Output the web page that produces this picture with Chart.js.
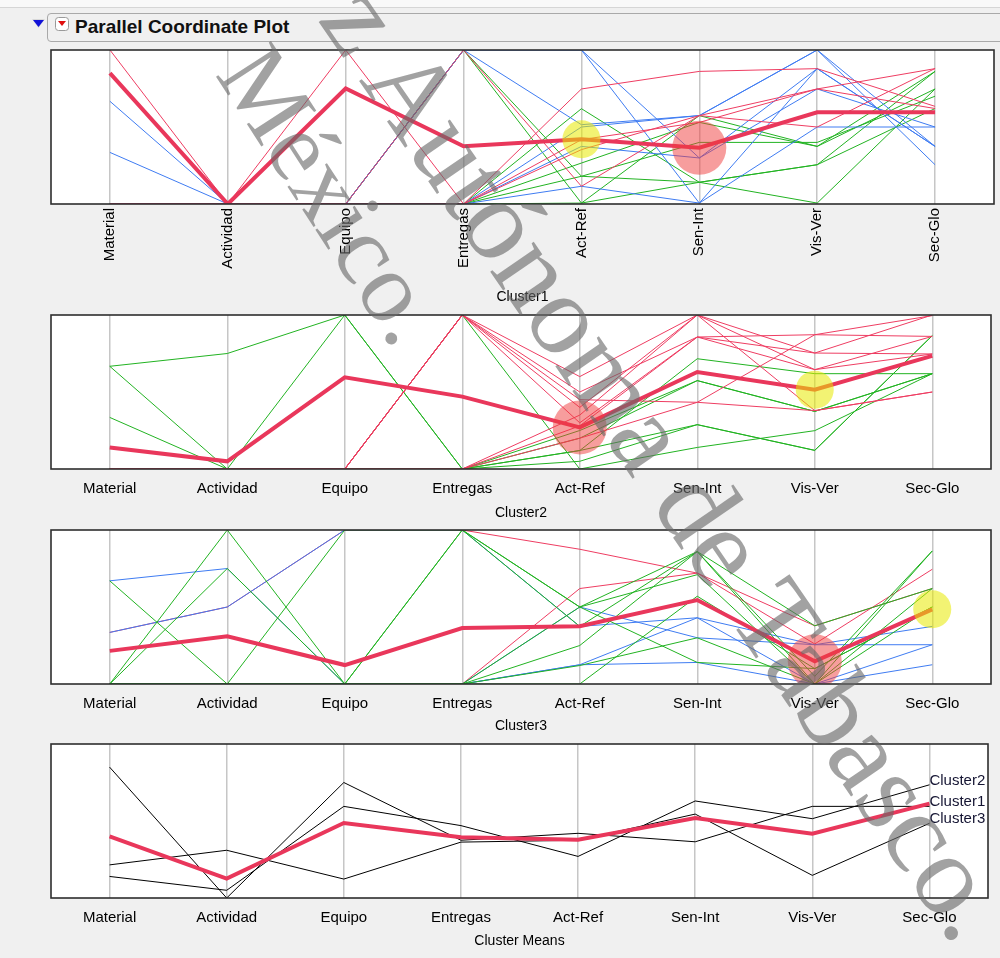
<!DOCTYPE html>
<html>
<head>
<meta charset="utf-8">
<script src="https://cdn.jsdelivr.net/npm/chart.js@4.4.1/dist/chart.umd.min.js"></script>
<style>
  body { margin: 0; background: #f0f0f0; width: 1000px; height: 958px; overflow: hidden; position: relative; font-family: "Liberation Sans", Arial, sans-serif; }
  #strip { position: absolute; left: 0; top: 0; width: 1000px; height: 7px; background: #f9f9f9; border-bottom: 1px solid #d6d6d6; }
  .hdr { position: absolute; left: 47px; top: 13px; width: 960px; height: 27px; border: 1px solid #a9a9a9; border-radius: 4px; background: #f0f0f0; }
  .ttl { position: absolute; left: 27px; top: 2px; font: bold 19px/22px "Liberation Sans", Arial, sans-serif; color: #111; white-space: nowrap; }
  .icons { position: absolute; left: 0; top: 0; }
  canvas { position: absolute; left: 0; }
  .wm { position: absolute; font-family: "Liberation Serif", "DejaVu Serif", serif; color: rgba(105,105,105,0.62); white-space: nowrap; transform-origin: 0 0; pointer-events: none; z-index: 5; }
  .wm1 { left: 396px; top: -35px; font-size: 115px; line-height: 115px; transform: rotate(55.5deg); }
  .wm2 { left: 284px; top: 29px; font-size: 100px; line-height: 100px; transform: rotate(57deg); }
</style>
</head>
<body>
<div id="strip"></div>
<div class="hdr"><span class="ttl">Parallel Coordinate Plot</span></div>
<svg class="icons" width="80" height="40">
  <polygon points="32,19 45,19 38.5,28" fill="#d8d8d8"/>
  <polygon points="33,20 44,20 38.5,27" fill="#1212d8"/>
  <rect x="55.5" y="17.5" width="13" height="13" rx="3" fill="#fff" stroke="#9a9a9a"/>
  <polygon points="58,21 66,21 62,26" fill="#e01010"/>
</svg>
<canvas id="c1"></canvas>
<canvas id="c2"></canvas>
<canvas id="c3"></canvas>
<canvas id="c4"></canvas>
<div class="wm wm1">z Autónoma de Tabasco.</div>
<div class="wm wm2">México.</div>
<script>
const axisNames = ['Material', 'Actividad', 'Equipo', 'Entregas', 'Act-Ref', 'Sen-Int', 'Vis-Ver', 'Sec-Glo'];

// cluster means (scaled 0..1 per axis)
const cluster1Mean = [0.85, 0.00, 0.75, 0.375, 0.42, 0.365, 0.595, 0.595];
const cluster2Mean = [0.14, 0.05, 0.595, 0.47, 0.27, 0.63, 0.515, 0.735];
const cluster3Mean = [0.215, 0.31, 0.123, 0.363, 0.375, 0.545, 0.147, 0.485];
const overallMean  = [0.40, 0.126, 0.487, 0.394, 0.379, 0.52, 0.418, 0.613];

// individual rows, cluster 1
const c1Red = [
  [1, 0, 1, 0, 0.747, 0.861, 0.879, 0.634],
  [0, 0, 0, 1, 0.115, 0.574, 0.747, 0.879],
  [0, 0, 0, 0, 0.353, 0.574, 0.5, 0.88],
  [0, 0, 0, 0, 0.418, 0.53, 0.747, 0.62]
];
const c1Blue = [
  [0.667, 0, 0, 1, 0.515, 0.574, 1.0, 0.255],
  [0.335, 0, 0, 0, 0.374, 0.299, 0.879, 0.374],
  [0, 0, 0, 1, 1.0, 0.299, 0.747, 0.5],
  [0, 0, 0, 1, 1.0, 0.006, 0.879, 0.374],
  [0, 0, 0, 0, 0.115, 0.006, 0.5, 0.5],
  [0, 0, 0, 0, 0.5, 0.574, 1.0, 0.374]
];
const c1Green = [
  [0, 0, 0, 0, 0.619, 0.141, 0.006, 0.747],
  [0, 0, 0, 1, 0.006, 0.574, 0.374, 0.747],
  [0, 0, 0, 1, 0.18, 0.141, 0.255, 0.861],
  [0, 0, 0, 0, 0.266, 0.53, 0.374, 0.861],
  [0, 0, 0, 0, 0.18, 0.4, 0.4, 0.7],
  [0, 0, 0, 0, 0.006, 0.141, 0.255, 0.62]
];

// cluster 2
const c2Red = [
  [0, 0, 0, 1, 0.6, 1.0, 0.753, 1.0],
  [0, 0, 0, 1, 0.5, 0.857, 0.645, 0.861],
  [0, 0, 0, 1, 0.4, 1.0, 0.645, 0.747],
  [0, 0, 0, 1, 0.3, 0.857, 0.872, 0.996],
  [0, 0, 0, 1, 0.45, 0.433, 0.379, 0.5],
  [0, 0, 0, 0, 0.28, 0.857, 0.753, 0.747],
  [0, 0, 0, 0, 0.2, 0.433, 0.872, 0.861],
  [0, 0, 0, 0, 0.35, 1.0, 0.379, 0.5]
];
const c2Green = [
  [0.667, 0.75, 1, 0, 0.12, 0.288, 0.121, 0.866],
  [0.667, 0, 1, 0, 0.2, 0.574, 0.374, 0.619],
  [0.335, 0, 0, 1, 0.0, 0.14, 0.249, 0.619],
  [0, 0, 0, 0, 0.12, 0.716, 0.619, 0.619],
  [0, 0, 0, 0, 0.05, 0.288, 0.121, 0.866],
  [0, 0, 0, 0, 0.25, 0.574, 0.374, 0.619]
];

// cluster 3
const c3Red = [
  [0.335, 0.5, 1, 1, 0.875, 0.72, 0.378, 0.62],
  [0, 0, 0, 0, 0.62, 0.72, 0.26, 0.745]
];
const c3Blue = [
  [0.67, 0.75, 0, 0, 0.125, 0.43, 0.255, 0.374],
  [0.335, 0.5, 1, 1, 0.374, 0.43, 0.0, 0.255],
  [0, 0, 0, 0, 0.125, 0.14, 0.0, 0.125],
  [0, 0, 0, 0, 0.5, 0.3, 0.255, 0.255]
];
const c3Green = [
  [0.67, 0, 1, 1, 0.5, 0.86, 0.0, 0.864],
  [0, 1, 0, 1, 0.374, 0.86, 0.378, 0.62],
  [0, 0.75, 0, 0, 0.5, 0.71, 0.0, 0.5],
  [0, 0, 0, 0, 0.25, 0.86, 0.05, 0.864],
  [0, 0, 0, 0, 0.0, 0.57, 0.1, 0.5],
  [0, 0, 0, 0, 0.12, 0.3, 0.0, 0.62],
  [0, 0, 0, 1, 0.5, 0.14, 0.1, 0.5]
];

// axis index of the yellow / pink marker on each cluster mean
const yellowAxis = [4, 6, 7];
const pinkAxis = [5, 4, 6];

const RED = '#ee3d62', BLUE = '#3f7cf2', GREEN = '#22b322', MEAN = '#e9375b';
Chart.defaults.font.family = '"Liberation Sans", Arial, sans-serif';

function thin(rows, color) {
  return rows.map(r => ({ data: r, borderColor: color, borderWidth: 1, pointRadius: 0 }));
}
function meanLine(m) {
  return { data: m, borderColor: MEAN, borderWidth: 4, pointRadius: 0 };
}
function markers(m, yi, pi) {
  return {
    data: m, showLine: false, pointBorderWidth: 0, pointBorderColor: 'rgba(0,0,0,0)',
    pointRadius: c => c.dataIndex === yi ? 19 : (c.dataIndex === pi ? 27 : 0),
    pointBackgroundColor: c => c.dataIndex === yi ? 'rgba(232,234,0,0.55)' : 'rgba(240,60,60,0.5)'
  };
}

const framePlugin = {
  id: 'frame',
  beforeDraw(chart) {
    const a = chart.chartArea, ctx = chart.ctx;
    ctx.save(); ctx.fillStyle = '#fff'; ctx.fillRect(a.left, a.top, a.right - a.left, a.bottom - a.top); ctx.restore();
  },
  afterDraw(chart) {
    const a = chart.chartArea, ctx = chart.ctx;
    ctx.save(); ctx.strokeStyle = '#2e2e2e'; ctx.lineWidth = 1.6;
    ctx.strokeRect(a.left, a.top, a.right - a.left, a.bottom - a.top); ctx.restore();
  }
};

const clusterLabels = {
  id: 'clusterLabels',
  afterDatasetsDraw(chart) {
    const ctx = chart.ctx;
    ctx.save(); ctx.font = '15px "Liberation Sans", Arial'; ctx.fillStyle = '#141432'; ctx.textBaseline = 'alphabetic';
    chart.data.datasets.forEach((ds, i) => {
      if (!ds.clusterName) return;
      const pt = chart.getDatasetMeta(i).data[axisNames.length - 1];
      ctx.fillText(ds.clusterName, pt.x, pt.y);
    });
    ctx.restore();
  }
};

const panels = [
  { id: 'c1', top: 50, bottom: 204, right: 994, title: 'Cluster1', titleY: 298, rotated: true,
    datasets: [markers(cluster1Mean, yellowAxis[0], pinkAxis[0]), meanLine(cluster1Mean), ...thin(c1Red, RED), ...thin(c1Blue, BLUE), ...thin(c1Green, GREEN)] },
  { id: 'c2', top: 315, bottom: 469, right: 991, title: 'Cluster2', titleY: 514,
    datasets: [markers(cluster2Mean, yellowAxis[1], pinkAxis[1]), meanLine(cluster2Mean), ...thin(c2Red, RED), ...thin(c2Green, GREEN)] },
  { id: 'c3', top: 530, bottom: 684, right: 991, title: 'Cluster3', titleY: 727,
    datasets: [markers(cluster3Mean, yellowAxis[2], pinkAxis[2]), meanLine(cluster3Mean), ...thin(c3Green, GREEN), ...thin(c3Blue, BLUE), ...thin(c3Red, RED)] },
  { id: 'c4', top: 744, bottom: 898, right: 988, title: 'Cluster Means', titleY: 942,
    datasets: [meanLine(overallMean),
      { data: cluster2Mean, borderColor: '#000', borderWidth: 1, pointRadius: 0, clusterName: 'Cluster2' },
      { data: cluster1Mean, borderColor: '#000', borderWidth: 1, pointRadius: 0, clusterName: 'Cluster1' },
      { data: cluster3Mean, borderColor: '#000', borderWidth: 1, pointRadius: 0, clusterName: 'Cluster3' }] }
];

panels.forEach(p => {
  const canvas = document.getElementById(p.id);
  const cTop = p.top - 10;
  const cBottom = Math.round(p.titleY + 8.4);
  canvas.width = 1000; canvas.height = cBottom - cTop;
  canvas.style.top = cTop + 'px';
  canvas.style.width = '1000px'; canvas.style.height = (cBottom - cTop) + 'px';
  const axisH = cBottom - p.bottom;
  new Chart(canvas, {
    type: 'line',
    data: { labels: axisNames, datasets: p.datasets },
    plugins: [framePlugin, clusterLabels],
    options: {
      responsive: false, animation: false,
      layout: { autoPadding: false, padding: { left: 51, right: 1000 - p.right, top: 10, bottom: 0 } },
      elements: { line: { tension: 0 } },
      plugins: { legend: { display: false }, tooltip: { enabled: false } },
      scales: {
        x: {
          type: 'category', offset: true,
          grid: { offset: false, color: '#c6c6c6', lineWidth: 1.5, drawTicks: false },
          border: { display: false },
          ticks: { color: '#000', font: { size: 15 }, padding: p.rotated ? 4 : 11, autoSkip: false,
                   minRotation: p.rotated ? 90 : 0, maxRotation: p.rotated ? 90 : 0 },
          title: { display: true, text: p.title, color: '#000', font: { size: 14 }, padding: 0 },
          afterFit(scale) { scale.height = axisH; }
        },
        y: { display: false, min: 0, max: 1 }
      }
    }
  });
});
</script>
</body>
</html>
